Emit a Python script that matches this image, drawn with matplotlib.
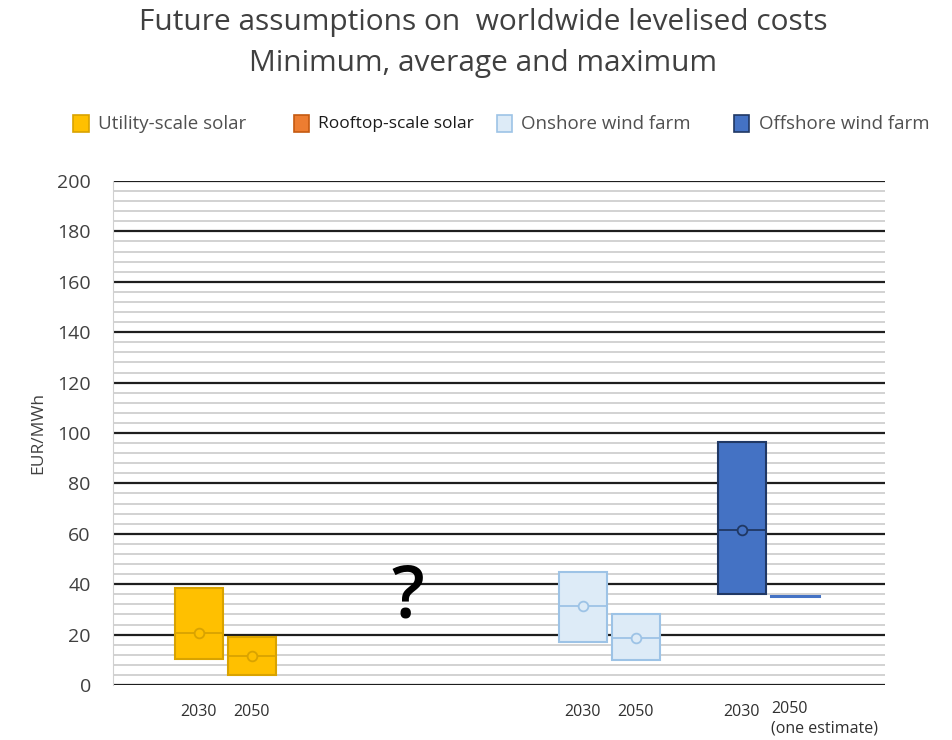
import numpy as np
import matplotlib.pyplot as plt
from matplotlib.patches import Rectangle

plt.rcParams['font.family'] = ['Open Sans', 'DejaVu Sans']

# ------------------------
# Dados (EUR/MWh)
# ------------------------
labels = ['2030', '2050', '2030', '2050', '2030', '2050\n(one estimate)']
x_pos = [1.62, 2.62, 8.87, 9.87, 11.87, 12.87]
v_min = [10.3, 4.0, 17.0, 10.0, 36.0, 35.3]
v_avg = [20.6, 11.5, 31.3, 18.7, 61.5, 35.3]
v_max = [38.5, 19.0, 44.8, 28.2, 96.4, 35.3]
tech = ['util', 'util', 'on', 'on', 'off', 'off']

series = ['Utility-scale solar', 'Rooftop-scale solar', 'Onshore wind farm', 'Offshore wind farm']
fills = {'util': '#FFC000', 'roof': '#ED7D31', 'on': '#DDEBF7', 'off': '#4472C4'}
edges = {'util': '#D9A300', 'roof': '#C55A11', 'on': '#9DC3E6', 'off': '#203864'}
keys = ['util', 'roof', 'on', 'off']

fig = plt.figure(figsize=(9.53, 7.40), dpi=100)
ax = fig.add_axes([0.1186, 0.0743, 0.81, 0.6811])
ax.set_xlim(0, 14.57)
ax.set_ylim(0, 200)

# grade: principais a cada 20, secundárias a cada 4
for y in np.arange(0, 201, 4):
    if y % 20 == 0:
        ax.axhline(y, color='#1e1e1e', lw=1.6, zorder=1)
    else:
        ax.axhline(y, color='#cfcfcf', lw=1.3, zorder=0.5)

w = 0.9
for xi, lo, av, hi, t in zip(x_pos, v_min, v_avg, v_max, tech):
    if hi - lo < 1:
        # apenas uma estimativa: só a linha
        ax.plot([xi - w / 2, xi + w / 2], [av, av], color=fills[t], lw=2.2, zorder=3)
        continue
    ax.add_patch(Rectangle((xi - w / 2, lo), w, hi - lo, facecolor=fills[t],
                           edgecolor=edges[t], lw=1.5, zorder=3))
    ax.plot([xi - w / 2, xi + w / 2], [av, av], color=edges[t], lw=1.3, zorder=4)
    ax.plot(xi, av, 'o', ms=7, mfc=fills[t], mec=edges[t], mew=1.3, zorder=5)

ax.text(5.57, 34.5, '?', fontsize=52, fontweight='semibold', ha='center', va='center',
        color='black', fontfamily='Open Sans', zorder=5)

ax.set_xticks([])
ax.set_yticks(np.arange(0, 201, 20))
ax.tick_params(axis='y', length=0, labelsize=14, labelcolor='#404040', pad=16)
for s in ['top', 'right', 'bottom']:
    ax.spines[s].set_visible(False)
ax.spines['left'].set_color('#d0d0d0')
ax.set_ylabel('EUR/MWh', fontsize=12.5, color='#404040', labelpad=8)

# rótulos dos anos
for xi, lab in zip(x_pos, labels):
    if '\n' in lab:
        ax.text(xi - 0.45, -6.5, lab, ha='left', va='top', fontsize=11.5,
                color='#303030', linespacing=1.3)
    else:
        ax.text(xi, -7.5, lab, ha='center', va='top', fontsize=11.5, color='#303030')

fig.text(0.507, 0.970, 'Future assumptions on  worldwide levelised costs',
         ha='center', va='center', fontsize=21.5, color='#404040')
fig.text(0.507, 0.914, 'Minimum, average and maximum',
         ha='center', va='center', fontsize=21.5, color='#404040')

# legenda manual
leg_x = [0.077, 0.308, 0.521, 0.770]
leg_fs = [13.5, 12.5, 13.5, 13.5]
for lx, k, name, fs in zip(leg_x, keys, series, leg_fs):
    fig.patches.append(Rectangle((lx, 0.822), 0.016, 0.023, transform=fig.transFigure,
                                 facecolor=fills[k], edgecolor=edges[k], lw=1.2))
    fig.text(lx + 0.026, 0.833, name, ha='left', va='center', fontsize=fs,
             color='#1a1a1a' if k == 'roof' else '#505050')

fig.savefig('out.png', dpi=100)
